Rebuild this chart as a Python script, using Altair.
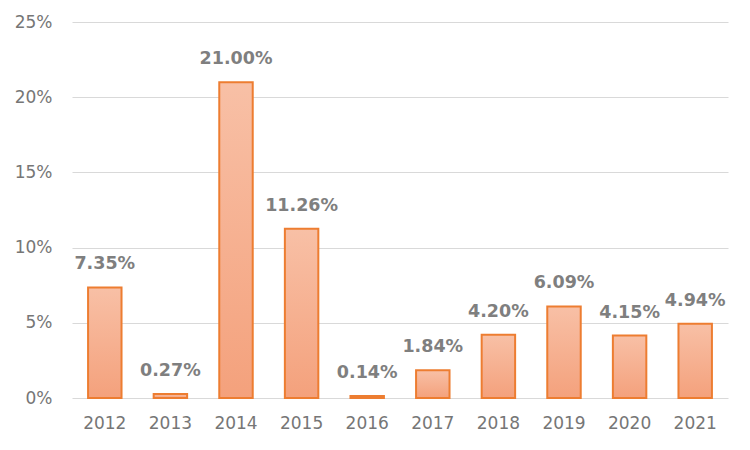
import altair as alt
import pandas as pd

years = ["2012", "2013", "2014", "2015", "2016", "2017", "2018", "2019", "2020", "2021"]
values = [0.0735, 0.0027, 0.2100, 0.1126, 0.0014, 0.0184, 0.0420, 0.0609, 0.0415, 0.0494]

df = pd.DataFrame({"year": years, "value": values})

grad = alt.Gradient(
    gradient="linear",
    stops=[alt.GradientStop(color="#F8C0A6", offset=0), alt.GradientStop(color="#F4A17C", offset=1)],
    x1=0, x2=0, y1=0, y2=1,
)

FONT = "DejaVu Sans"

base = alt.Chart(df).encode(
    x=alt.X("year:N", sort=years, title=None,
            scale=alt.Scale(paddingInner=0.49, paddingOuter=0.245),
            axis=alt.Axis(labelAngle=0, labelFontSize=17, labelColor="#767676", labelFont=FONT,
                          ticks=False, domain=False, labelPadding=17)),
    y=alt.Y("value:Q", title=None,
            scale=alt.Scale(domain=[0, 0.25]),
            axis=alt.Axis(format="%", values=[0, 0.05, 0.10, 0.15, 0.20, 0.25], labelFontSize=17,
                          labelColor="#767676", labelFont=FONT, ticks=False, domain=False,
                          labelPadding=20, gridColor="#D9D9D9", gridWidth=1)),
)

bars = base.mark_bar(fill=grad, stroke="#ED7D31", strokeWidth=2)
labels = base.mark_text(baseline="bottom", dy=-14, fontSize=17.5, fontWeight="bold", color="#7F7F7F",
                        font=FONT).encode(text=alt.Text("value:Q", format=".2%"))

chart = (bars + labels).properties(
    width=656, height=376,
    autosize=alt.AutoSizeParams(type="none"),
    padding={"left": 64, "top": 14, "right": 10, "bottom": 40},
).configure_view(stroke=None)

chart.save("out.html", embed_options={"renderer": "svg", "actions": False})
